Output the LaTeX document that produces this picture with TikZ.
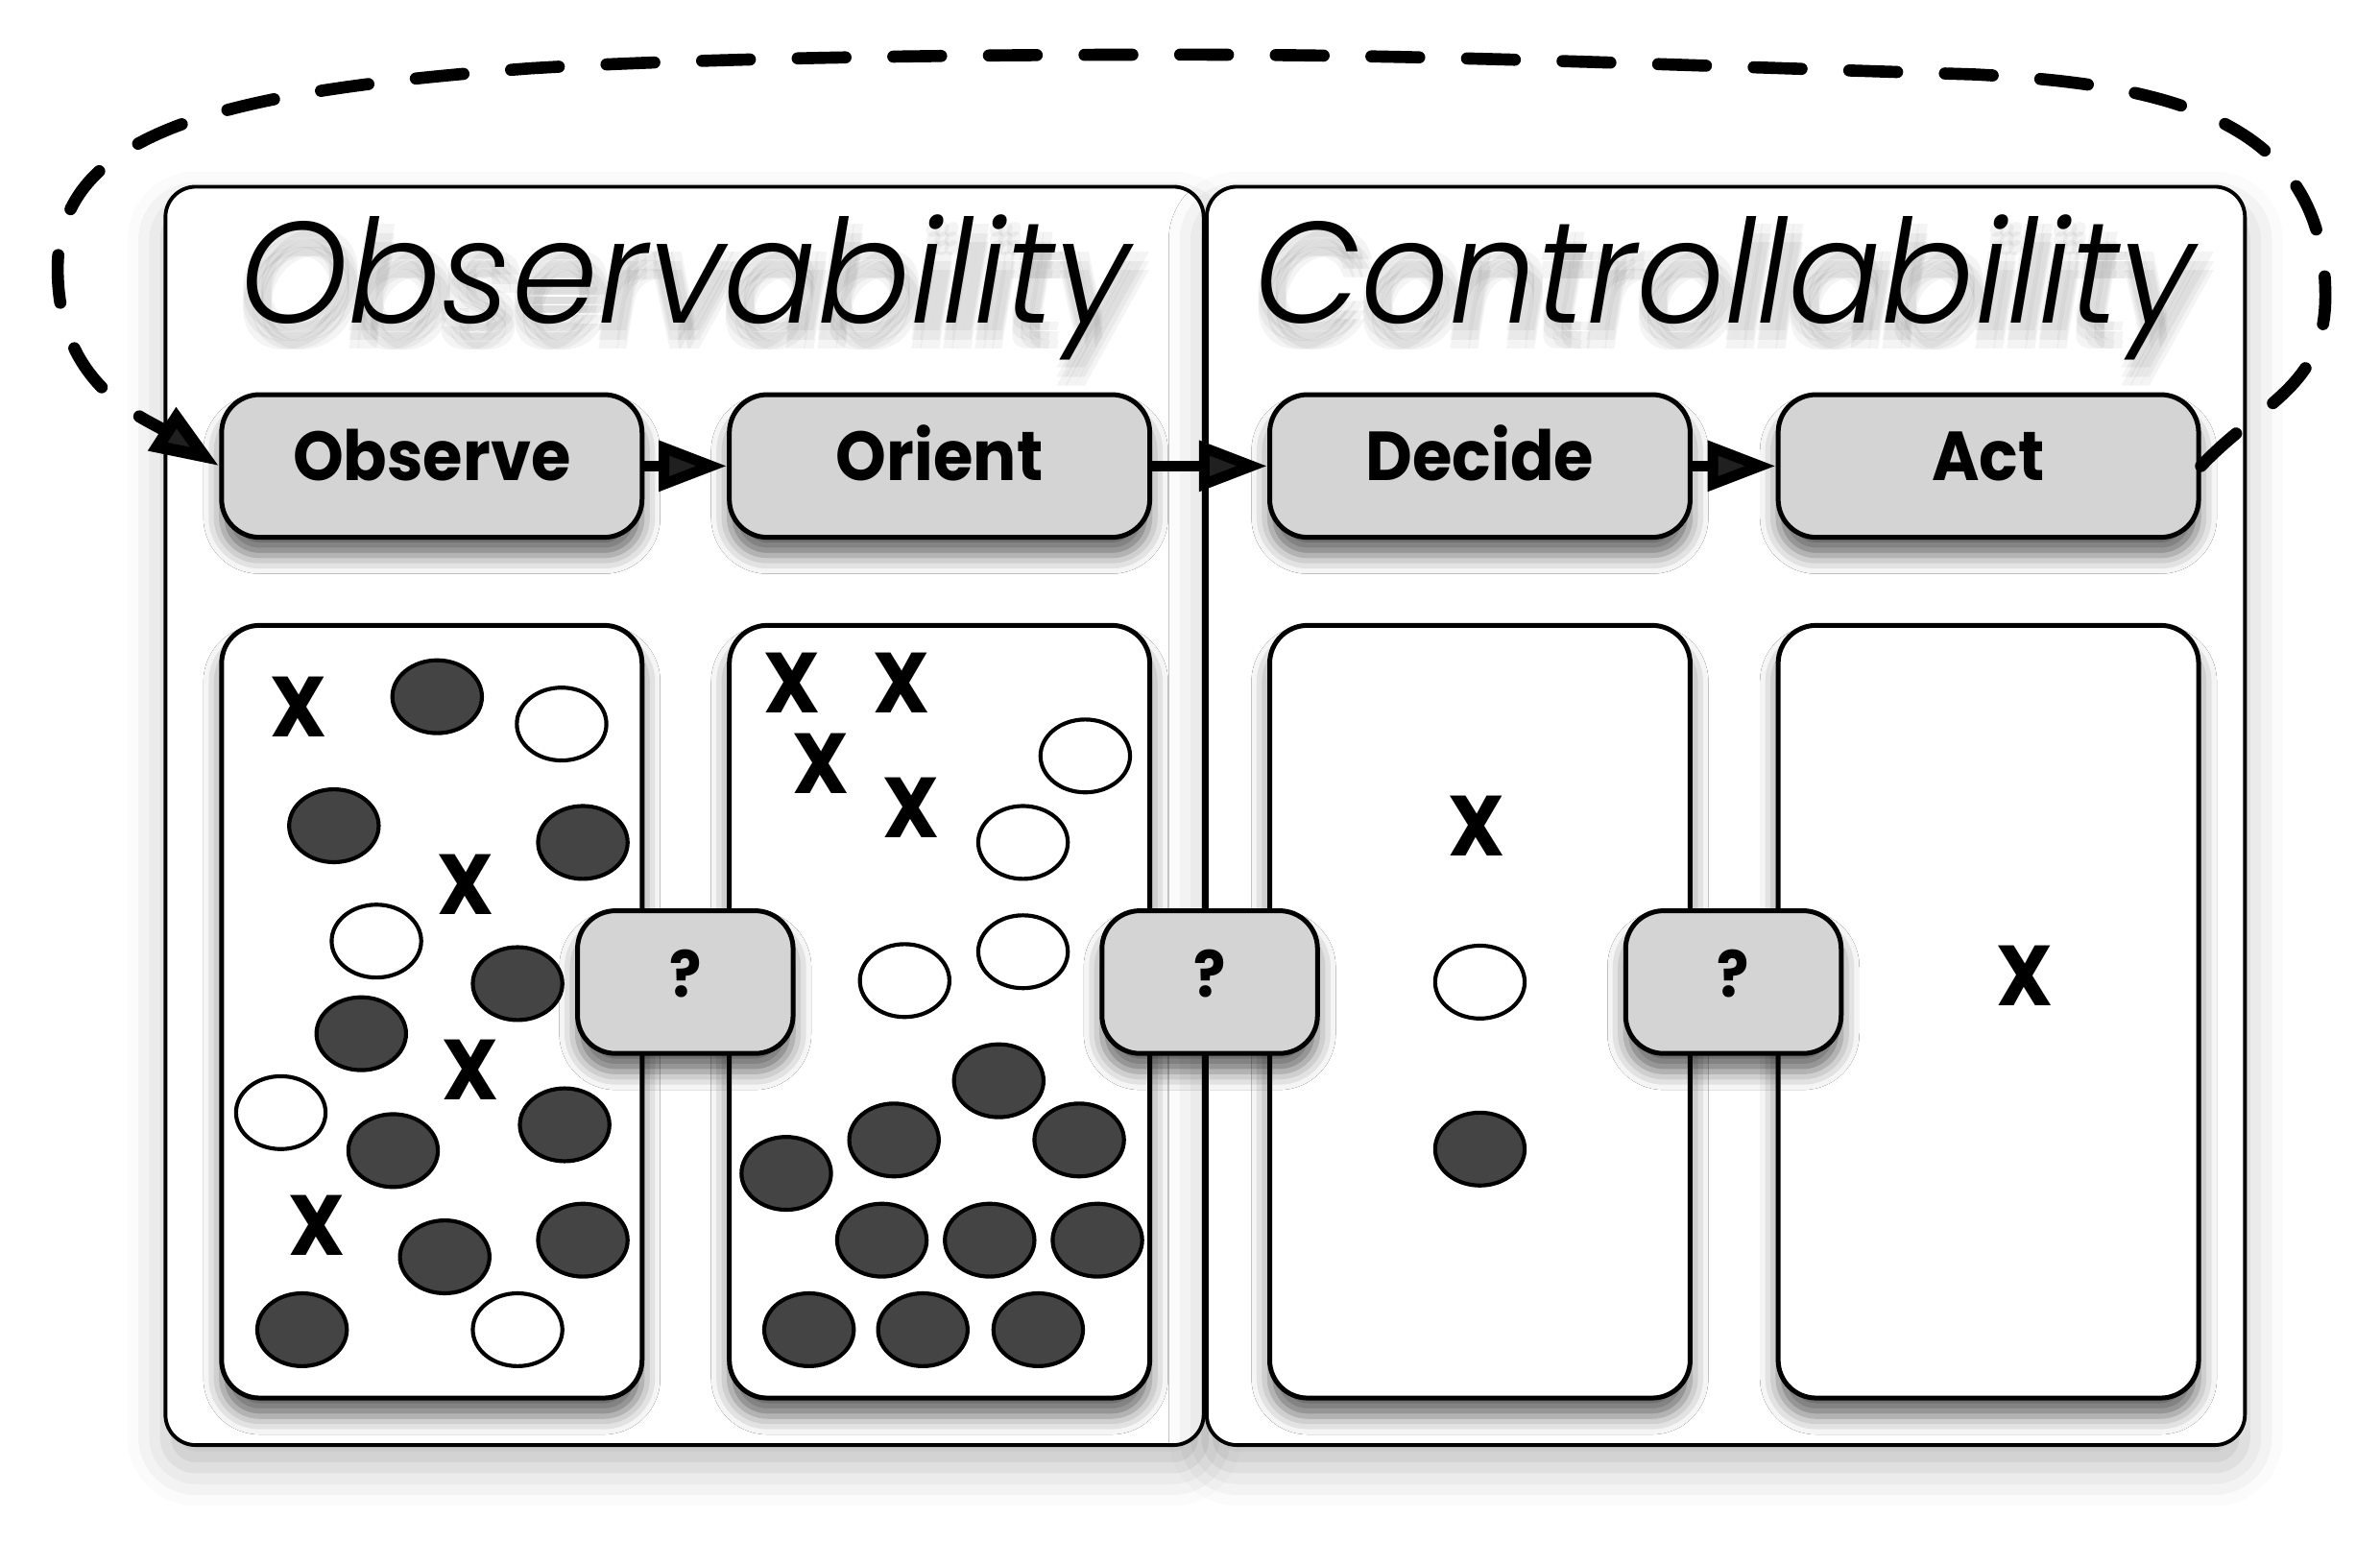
\documentclass[tikz,border=0pt]{standalone}
\usepackage{fontspec}
\setmainfont{Poppins}
\newfontfamily\titlefont{Poppins Light Italic}[FakeStretch=0.96]
\newfontfamily\labelfont{Poppins}[FakeStretch=0.93]
\usetikzlibrary{arrows.meta,shadows.blur}
\definecolor{boxgray}{HTML}{D4D4D4}
\definecolor{dotgray}{HTML}{444444}

\begin{document}
\begin{tikzpicture}[x=0.1mm,y=0.1mm,
    panel/.style={draw, line width=0.7pt, fill=white, rounded corners=2mm,
      blur shadow={shadow xshift=0pt, shadow yshift=-1.5mm, shadow opacity=25, shadow blur radius=2.5mm}},
    card/.style={draw, line width=0.9pt, fill=white, rounded corners=2.5mm,
      minimum width=27.7mm, minimum height=50.9mm, inner sep=0pt,
      blur shadow={shadow xshift=0pt, shadow yshift=-1.2mm, shadow opacity=60, shadow blur radius=1.2mm}},
    stagebox/.style={card, fill=boxgray, minimum height=9.4mm,
      font=\labelfont\bfseries\fontsize{13}{13}\selectfont, text height=9.5pt, text depth=4pt},
    qbox/.style={stagebox, minimum width=14.2mm, font=\labelfont\bfseries\fontsize{12}{12}\selectfont},
    title/.style={anchor=base, font=\titlefont\fontsize{27}{27}\selectfont},
    titleshadow/.style={title, text=black, opacity=0.045},
    xmark/.style={inner sep=0pt, font=\labelfont\bfseries\fontsize{16}{16}\selectfont},
    dot/.style={draw, line width=0.75pt, fill=dotgray},
    hole/.style={draw, line width=0.75pt, fill=white},
    flow/.style={line width=0.7mm, -{Triangle[length=4.5mm,width=3.2mm]}},
    loopback/.style={flow, line width=0.8mm, dash pattern=on 3.15mm off 3.15mm, line cap=round}
  ]
  \useasboundingbox (0,0) rectangle (1568,1015);
  % Two halves
  \path[panel] (109,63) rectangle (793,892);
  \path[panel] (795,63) rectangle (1479,892);
  % Titles with a soft shadow
  \foreach \dx/\dy [count=\i] in {-6/-6, 0/-6, 6/-6, -6/0, 0/0, 6/0, -6/6, 0/6, 6/6} {
    \node[titleshadow] (obsshadow\i) at (455+\dx,791+\dy) {Observability};
    \node[titleshadow] (ctrlshadow\i) at (1140+\dx,791+\dy) {Controllability};
  }
  \node[title] (obstitle) at (451,802) {Observability};
  \node[title] (ctrltitle) at (1136,802) {Controllability};
  % Cards under each stage
  \node[card] (obscard) at (284.5,348.5) {};
  \node[card] (oricard) at (619,348.5) {};
  \node[card] (deccard) at (975,348.5) {};
  \node[card] (actcard) at (1310,348.5) {};
  % Observe card
  \foreach \x/\y in {288/556, 220/471, 384/460, 341/367, 238/334, 259/257, 372/274, 293/187, 384/198, 199/139}
    \draw[dot] (\x,\y) ellipse [x radius=2.95mm, y radius=2.4mm];
  \foreach \x/\y in {370/538, 248/395, 185/282, 341/139}
    \draw[hole] (\x,\y) ellipse [x radius=2.95mm, y radius=2.4mm];
  \foreach \x/\y [count=\i] in {197/549, 307/432, 310/310, 209/208}
    \node[xmark] (obsx\i) at (\x,\y) {X};
  % Orient card
  \foreach \x/\y in {658/303, 589/264, 711/264, 518/242, 581/198, 652/198, 723/198, 533/139, 608/139, 684/139}
    \draw[dot] (\x,\y) ellipse [x radius=2.95mm, y radius=2.4mm];
  \foreach \x/\y in {715/517, 674/460, 674/388, 596/369}
    \draw[hole] (\x,\y) ellipse [x radius=2.95mm, y radius=2.4mm];
  \foreach \x/\y [count=\i] in {522/565, 594/565, 541/512, 600/483}
    \node[xmark] (orix\i) at (\x,\y) {X};
  % Decide card
  \node[xmark] (decx) at (973,471) {X};
  \draw[hole] (975,368) ellipse [x radius=2.95mm, y radius=2.4mm];
  \draw[dot] (975,258) ellipse [x radius=2.95mm, y radius=2.4mm];
  % Act card
  \node[xmark] (actx) at (1334,372) {X};
  % Unknown transitions
  \node[qbox] (q1) at (451.5,368) {?};
  \node[qbox] (q2) at (797,368) {?};
  \node[qbox] (q3) at (1142,368) {?};
  % OODA stages
  \node[stagebox] (observe) at (284.5,708) {Observe};
  \node[stagebox] (orient) at (619,708) {Orient};
  \node[stagebox] (decide) at (975,708) {Decide};
  \node[stagebox] (act) at (1310,708) {Act};
  \draw[flow] (observe) -- (orient);
  \draw[flow] (orient) -- (decide);
  \draw[flow] (decide) -- (act);
  % Feedback loop
  \draw[loopback] (act.east) .. controls (1490,750) and (1532,760) .. (1532,820)
    .. controls (1532,940) and (1420,960) .. (1300,966)
    .. controls (1100,972) and (950,979) .. (780,979)
    .. controls (600,979) and (450,976) .. (350,970)
    .. controls (150,955) and (38,930) .. (38,838)
    .. controls (38,760) and (95,740) .. (observe.west);
\end{tikzpicture}
\end{document}
